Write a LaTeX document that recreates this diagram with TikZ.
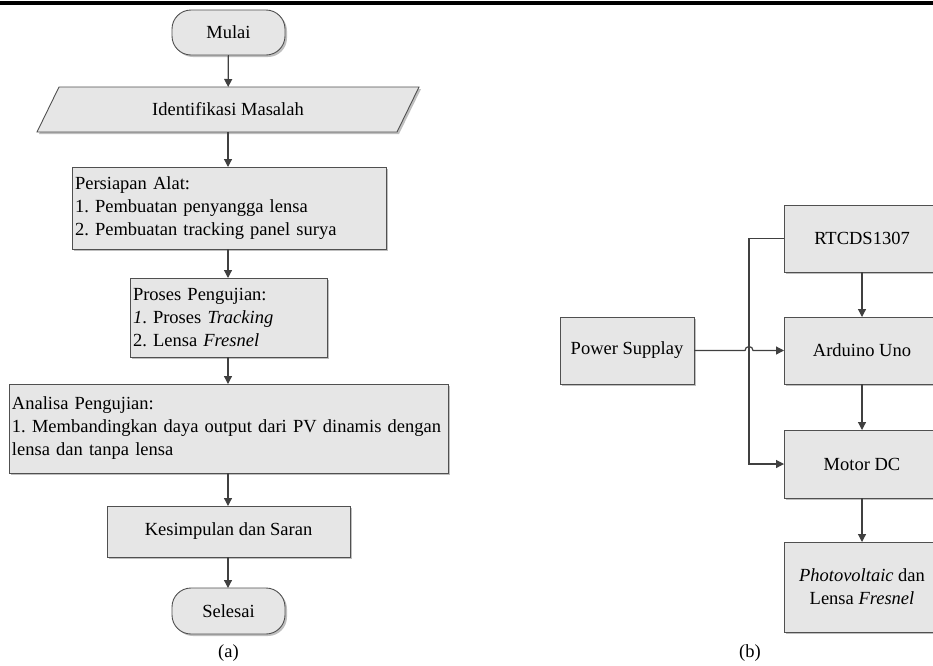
\documentclass[tikz,border=0pt]{standalone}
\usepackage{fontspec}
\setmainfont{Liberation Serif}
\usetikzlibrary{arrows.meta,shadows,calc}
\definecolor{boxfill}{HTML}{E6E6E6}
\definecolor{boxline}{HTML}{505050}
\definecolor{conn}{HTML}{404040}
\frenchspacing
\begin{document}
\begin{tikzpicture}[x=1pt,y=-1pt,
  font=\fontsize{18.5}{23}\selectfont,
  shad/.style={drop shadow={shadow xshift=2pt,shadow yshift=-2pt,fill=black!25,opacity=1}},
  box/.style={draw=boxline,fill=boxfill,line width=0.9pt,shad,inner sep=0pt,outer sep=0pt},
  lbox/.style={box,align=left,inner xsep=3pt,text width=#1},
  term/.style={box,rounded corners=19pt},
  arr/.style={draw=conn,line width=1.2pt,-{Triangle[length=8pt,width=8pt]}},
  ln/.style={draw=conn,line width=1.2pt}]
\useasboundingbox (0,0) rectangle (933,665);
\draw[black,line width=3.5pt] (0,3) -- (933,3);

% (a) flowchart
\node[term,minimum width=113pt,minimum height=45pt] (mulai) at (228.5,32.5) {Mulai};
\node[minimum width=360pt,minimum height=45pt,inner sep=0pt,outer sep=0pt] (iden) at (228,109.5) {};
\draw[box] ($(iden.north west)+(11,0)$) -- ($(iden.north east)+(11,0)$) -- ($(iden.south east)+(-11,0)$) -- ($(iden.south west)+(-11,0)$) -- cycle;
\node at (iden.center) {Identifikasi Masalah};
\node[lbox=308pt,minimum width=314pt,minimum height=82pt] (alat) at (229,208)
  {Persiapan Alat:\\1. Pembuatan penyangga lensa\\2. Pembuatan tracking panel surya};
\node[lbox=191pt,minimum width=197pt,minimum height=79pt] (uji) at (228.5,317.5)
  {Proses Pengujian:\\\textit{1}. Proses \textit{Tracking}\\2. Lensa \textit{Fresnel}};
\node[lbox=433pt,minimum width=439pt,minimum height=89pt] (anal) at (228.5,428.5)
  {Analisa Pengujian:\\1. Membandingkan daya output dari PV dinamis dengan\\lensa dan tanpa lensa};
\node[box,minimum width=243pt,minimum height=51pt] (kes) at (228.5,531.5) {Kesimpulan dan Saran};
\node[term,minimum width=113pt,minimum height=46pt] (sel) at (228.5,611) {Selesai};
\node (la) at (228.5,653) {(a)};

\draw[arr] (mulai) -- (iden);
\draw[arr] (iden) -- (alat.north -| iden.south);
\draw[arr] (alat.south -| iden.south) -- (uji.north -| iden.south);
\draw[arr] (uji.south -| iden.south) -- (anal.north -| iden.south);
\draw[arr] (anal.south -| iden.south) -- (kes.north -| iden.south);
\draw[arr] (kes.south -| iden.south) -- (sel.north -| iden.south);

% (b) block diagram
\node[box,minimum width=156pt,minimum height=67pt] (rtc) at (862,238.5) {RTCDS1307};
\node[box,minimum width=156pt,minimum height=67pt] (ard) at (862,350.5) {Arduino Uno};
\node[box,minimum width=156pt,minimum height=68pt] (mot) at (862,464) {Motor DC};
\node[box,minimum width=156pt,minimum height=90pt,align=center] (pv) at (862,587)
  {\textit{Photovoltaic} dan\\Lensa \textit{Fresnel}};
\node[box,minimum width=134pt,minimum height=67pt] (pow) at (627,350.5) {Power Supplay};
\node (lb) at (750,653) {(b)};
\coordinate (jx) at (749,238.5);

\draw[arr] (rtc) -- (ard);
\draw[arr] (ard) -- (mot);
\draw[arr] (mot) -- (pv);
\draw[arr] (rtc.west) -- (jx) |- (mot.west);
\draw[arr] (pow.east) -- ($(jx |- pow.east)+(-4,0)$) arc[start angle=180,end angle=0,radius=4pt] -- (ard.west);
\end{tikzpicture}
\end{document}
